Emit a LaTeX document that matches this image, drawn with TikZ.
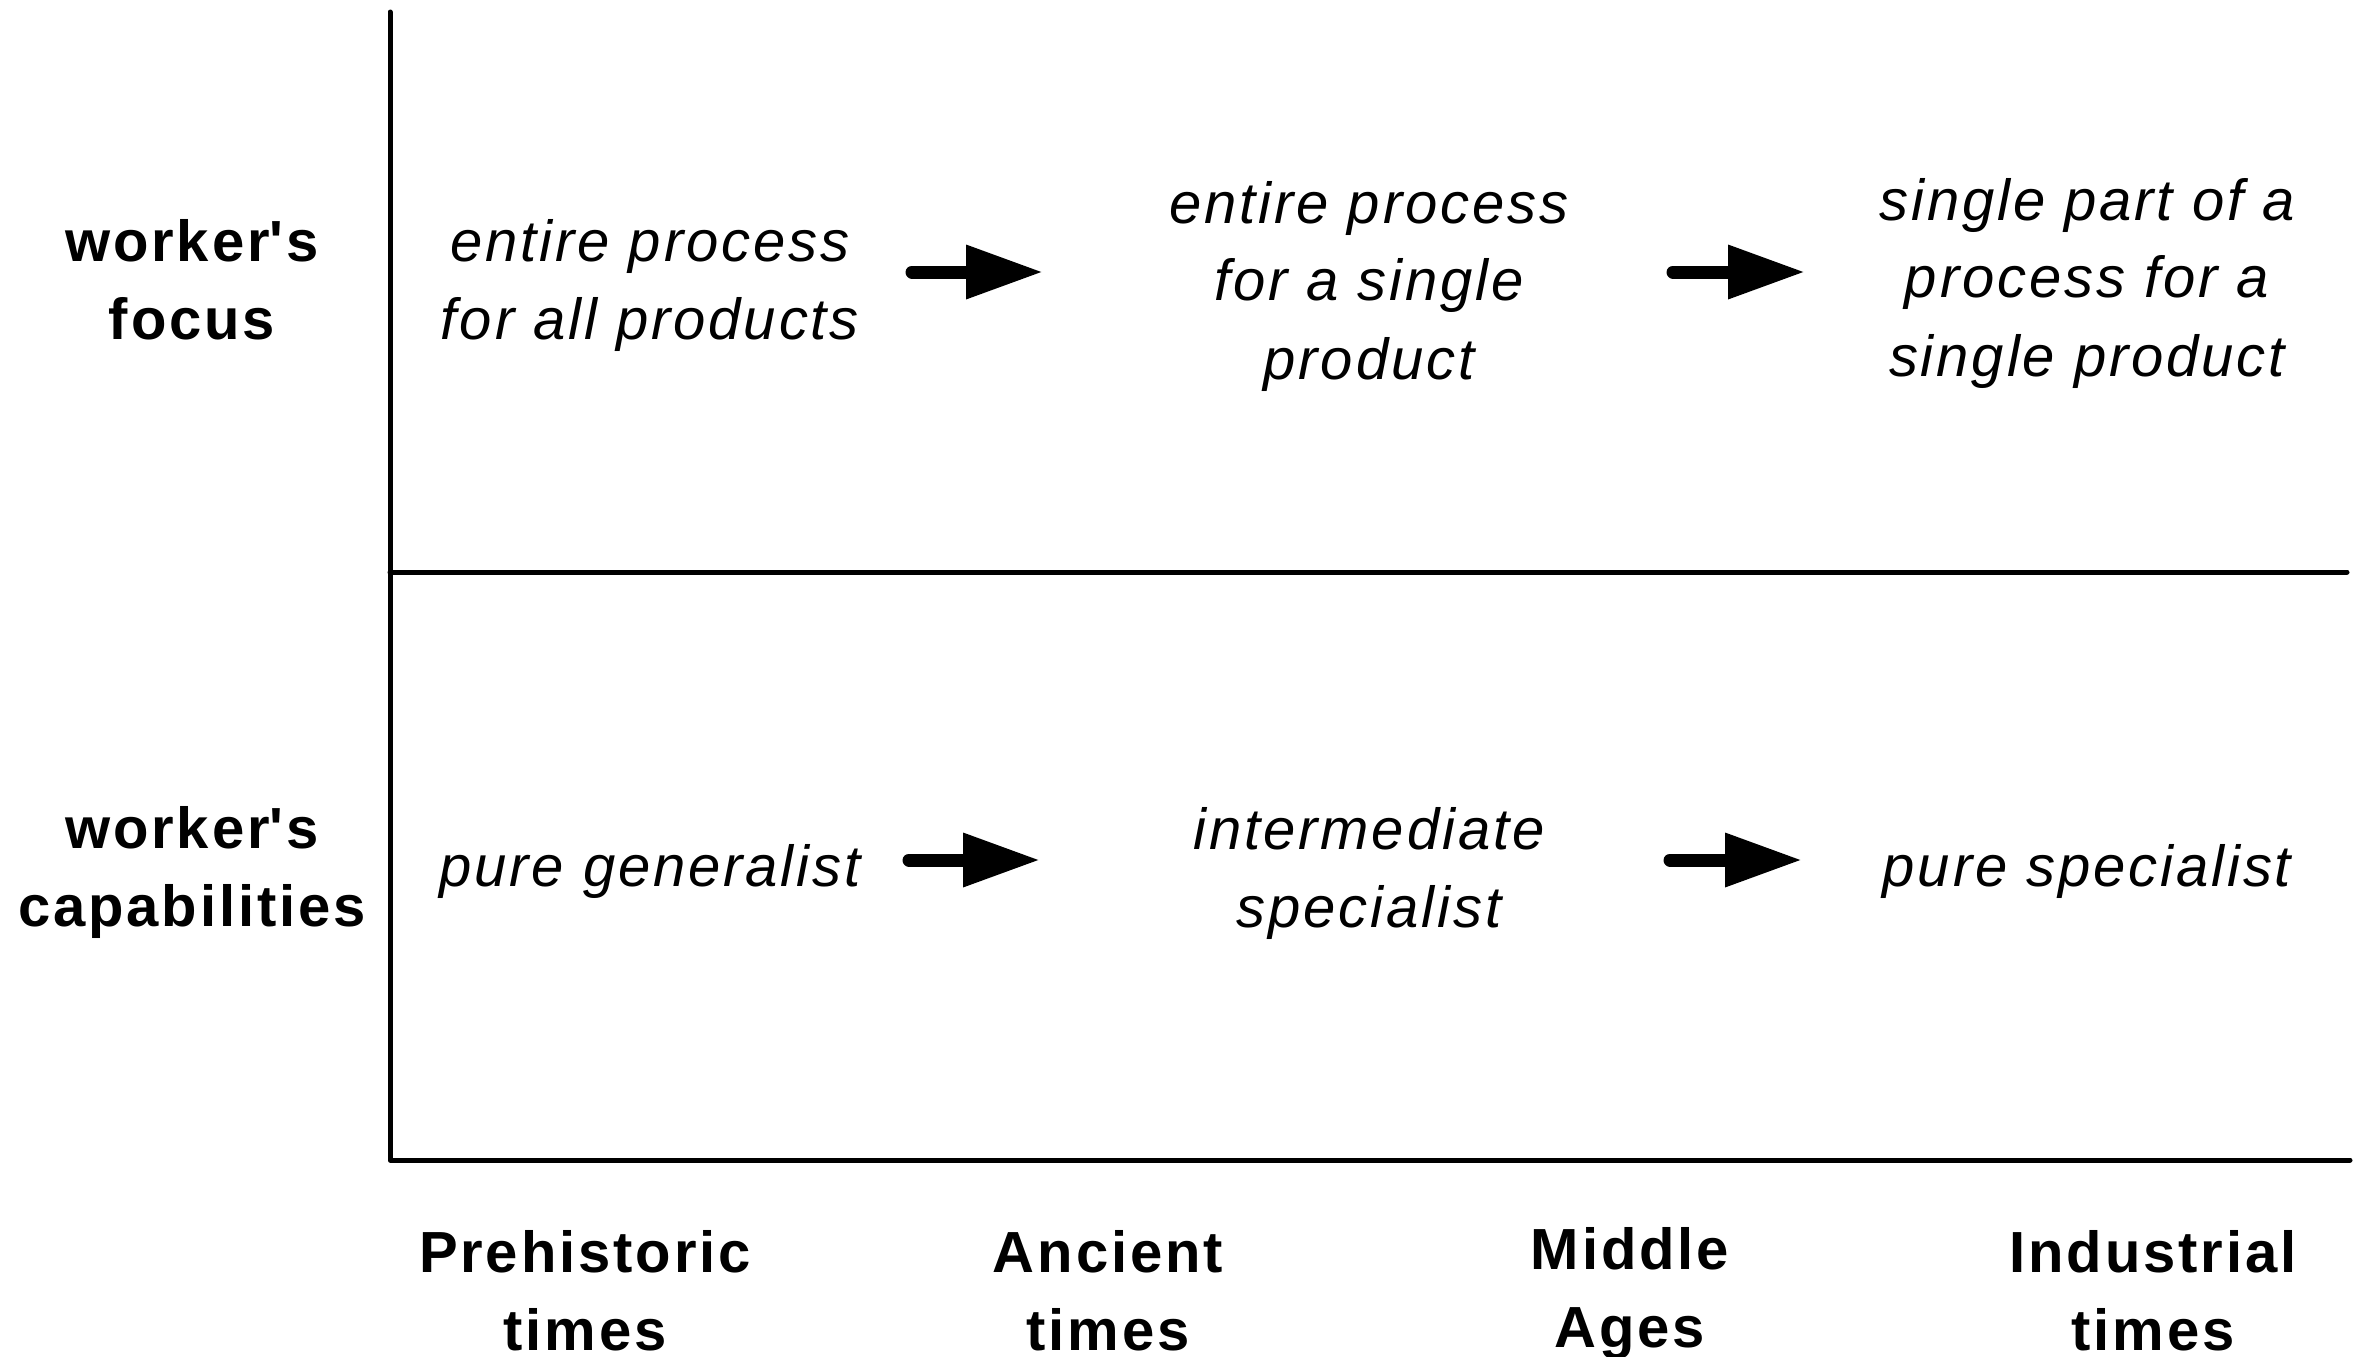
\documentclass[tikz,border=0pt]{standalone}
\usepackage{fontspec}
\setmainfont{Liberation Sans}[LetterSpace=5]
\usetikzlibrary{arrows.meta}
\newcommand{\sq}{\XeTeXglyph\numexpr\XeTeXcharglyph"27\relax\relax\kern3pt\relax}
\begin{document}
\begin{tikzpicture}[x=1pt,y=-1pt,
  every node/.style={inner sep=0pt,align=center,font=\fontsize{58}{78}\selectfont},
  rowlab/.style={font=\fontsize{58}{78}\selectfont\bfseries},
  cell/.style={font=\fontsize{58}{78}\selectfont\itshape},
  timelab/.style={font=\fontsize{58}{78}\selectfont\bfseries},
  axis/.style={line width=5pt,line cap=round,line join=round},
  bigarrow/.style={line width=13pt,line cap=round,-{Triangle[length=77pt,width=51pt]}}]
\useasboundingbox (0,0) rectangle (2354,1357);
\clip (0,0) rectangle (2354,1357);
% axes
\coordinate (top) at (390,12);
\coordinate (origin) at (390,1160);
\coordinate (xend) at (2350,1160);
\coordinate (midl) at (390,572);
\coordinate (midr) at (2347,572);
\draw[axis] (top) -- (origin) -- (xend);
\draw[axis] (midl) -- (midr);
% row labels
\node[rowlab] (lfocus) at (192,280) {worker\sq s\\focus};
\node[rowlab] (lcap) at (192,872) {worker\sq s\\capabilities};
% cells
\node[cell] (t1) at (650,286) {entire process\\for all products};
\node[cell] (t2) at (1369,286) {entire process\\for a single\\product};
\node[cell] (t3) at (2087,283) {single part of a\\process for a\\single product};
\node[cell] (b1) at (650,871) {pure generalist};
\node[cell] (b2) at (1369,873) {intermediate\\specialist};
\node[cell] (b3) at (2087,871) {pure specialist};
% arrows
\coordinate (a1s) at (912,272); \coordinate (a1e) at (1043,272);
\coordinate (a2s) at (1673,272); \coordinate (a2e) at (1805,272);
\coordinate (a3s) at (909,860); \coordinate (a3e) at (1040,860);
\coordinate (a4s) at (1670,860); \coordinate (a4e) at (1802,860);
\draw[bigarrow] (a1s) -- (a1e);
\draw[bigarrow] (a2s) -- (a2e);
\draw[bigarrow] (a3s) -- (a3e);
\draw[bigarrow] (a4s) -- (a4e);
% time labels
\node[timelab] (p1) at (585,1291) {Prehistoric\\times};
\node[timelab] (p2) at (1108,1291) {Ancient\\times};
\node[timelab] (p3) at (1630,1294) {Middle\\Ages};
\node[timelab] (p4) at (2153,1291) {Industrial\\times};
\end{tikzpicture}
\end{document}
